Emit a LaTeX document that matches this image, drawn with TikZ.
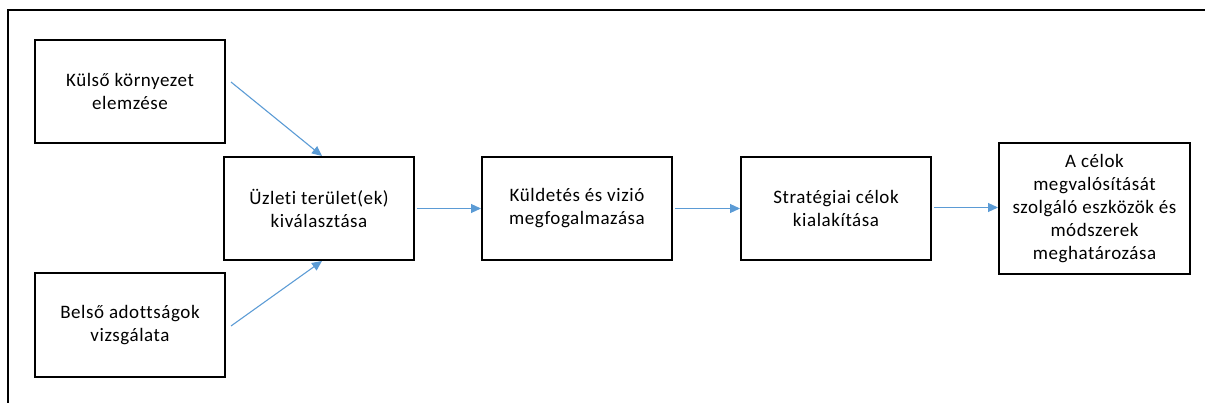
\documentclass[tikz,border=0pt]{standalone}
\usepackage{fontspec}
\setmainfont{Carlito}[LetterSpace=3.0,Ligatures=NoCommon]
\usetikzlibrary{arrows.meta}
\definecolor{arrblue}{HTML}{5B9BD5}
\tikzset{
  box/.style={draw=black, line width=2pt, minimum width=190pt, minimum height=103pt, align=center, inner sep=0pt,
    font=\fontsize{19}{23}\selectfont},
  arr/.style={draw=arrblue, line width=1.1pt, -{Triangle[length=10pt,width=9pt]}}
}
\begin{document}
\begin{tikzpicture}[x=1pt,y=-1pt]
\useasboundingbox (0,0) rectangle (1205,403);
\draw[line width=2pt] (8,403) -- (8,10) -- (1205,10);
\node[box] (k) at (130,91.5) {Külső környezet\\elemzése};
\node[box, minimum height=104pt] (b) at (130,325) {Belső adottságok\\vizsgálata};
\node[box] (u) at (319,208.5) {Üzleti terület(ek)\\kiválasztása};
\node[box] (v) at (577,208.5) {Küldetés és vizió\\megfogalmazása};
\node[box] (s) at (836,208.5) {Stratégiai célok\\kialakítása};
\node[box, minimum width=191pt, minimum height=131pt] (m) at (1094.5,208.5) {A célok\\megvalósítását\\szolgáló eszközök és\\módszerek\\meghatározása};
\draw[arr] ([xshift=5pt,yshift=9.5pt]k.east) -- ([xshift=3pt]u.north);
\draw[arr] ([xshift=5pt,yshift=-1pt]b.east) -- ([xshift=3pt]u.south);
\draw[arr] ([xshift=2pt]u.east) -- (v.west);
\draw[arr] ([xshift=2pt]v.east) -- (s.west);
\draw[arr] ([xshift=2pt,yshift=1pt]s.east) -- ([yshift=1pt]m.west);
\end{tikzpicture}
\end{document}
